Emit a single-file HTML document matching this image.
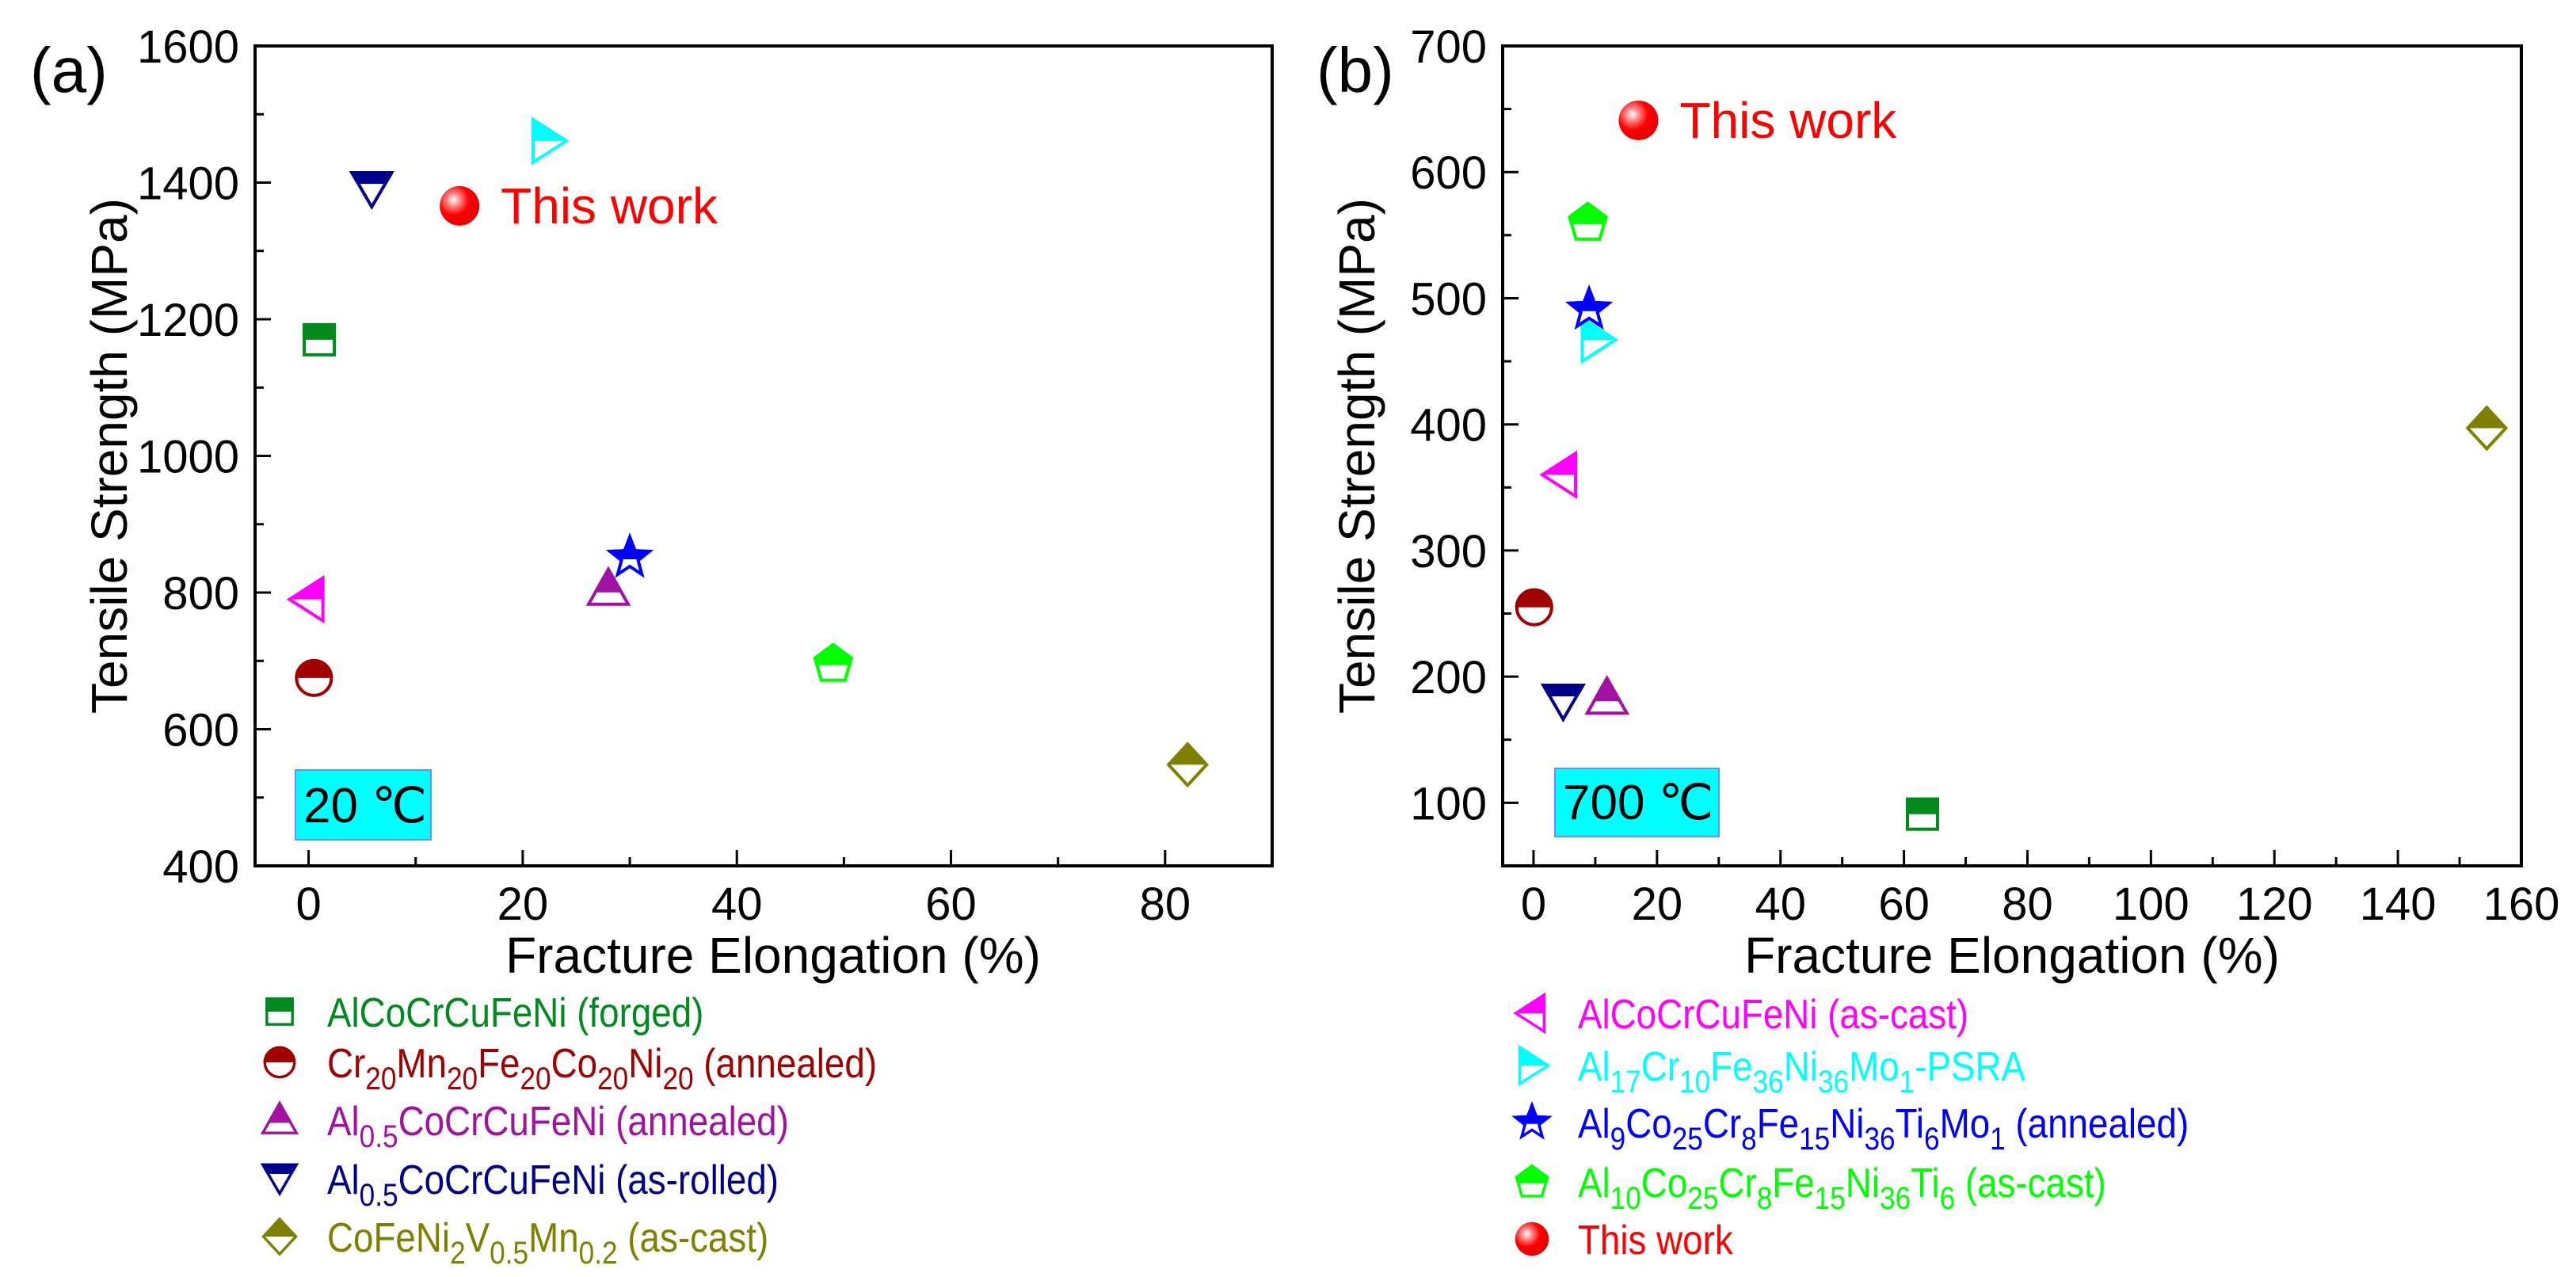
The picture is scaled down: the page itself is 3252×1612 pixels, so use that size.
<!DOCTYPE html>
<html><head><meta charset="utf-8"><style>
html,body{margin:0;padding:0;background:#fff;}
svg{display:block;font-family:"Liberation Sans",Arial,sans-serif;}
</style></head><body>
<svg id="fig" xmlns="http://www.w3.org/2000/svg" width="3252" height="1612" viewBox="0 0 3252 1612">
<defs>
<radialGradient id="sphere" cx="0.35" cy="0.35" r="0.7">
<stop offset="0" stop-color="#ffffff"/><stop offset="0.25" stop-color="#ff8080"/><stop offset="0.55" stop-color="#ff0000"/><stop offset="1" stop-color="#e00000"/>
</radialGradient>
</defs>
<g id="root"></g>
</svg>
<script>
// ---- data (panel a, 20 C) ----
const seriesKeys = ["forged","cr20","al05ann","al05roll","cofeni","ascast","psra","al9","al10","thiswork"];
const elongA = [1.0, 0.5, 28, 5.9, 82.1, 0, 22.3, 30, 49, 14.1];
const strengthA = [1170, 675, 805, 1390, 548, 790, 1461, 851, 696, 1366];
// ---- data (panel b, 700 C) ----
const elongB = [63, 0.1, 11.9, 4.8, 154.4, 4.5, 10.2, 9, 8.8, 17];
const strengthB = [91, 255, 183, 180, 397, 360, 467, 491, 560, 641];
// axis ticks
const xTicksA = [0, 20, 40, 60, 80];
const yTicksA = [400, 600, 800, 1000, 1200, 1400, 1600];
const xTicksB = [0, 20, 40, 60, 80, 100, 120, 140, 160];
const yTicksB = [100, 200, 300, 400, 500, 600, 700];

const shapes = ["square","circle","up","down","diamond","left","right","star","pentagon","sphere"];
const colors = ["#008a1e","#a00000","#a0129f","#00008a","#808000","#ff00ff","#00ffff","#0000ff","#00ff00","#ff0000"];

const NS = "http://www.w3.org/2000/svg";
const root = document.getElementById("root");
function el(tag, attrs, parent){ const e=document.createElementNS(NS,tag); for(const k in attrs) e.setAttribute(k,attrs[k]); (parent||root).appendChild(e); return e; }

let clipId = 0;
function shapePts(shape){
  switch(shape){
    case "up": return "0,-25 25,19 -25,19";
    case "down": return "-25,-21 25,-21 0,22";
    case "diamond": return "0,-26 24,0 0,26 -24,0";
    case "left": return "-24,0 18,-27 18,27";
    case "right": return "24,0 -18,-27 -18,27";
    case "pentagon": return "0,-24 23,-7 15,21 -15,21 -23,-7";
    case "star": { let p=[]; for(let i=0;i<10;i++){ const r=i%2?11:26; const a=-Math.PI/2+i*Math.PI/5; p.push((r*Math.cos(a)).toFixed(1)+","+(r*Math.sin(a)).toFixed(1)); } return p.join(" "); }
  }
  return "";
}
function fillCut(shape){ return {up:4,down:-7,diamond:0,left:0,right:0,pentagon:2,star:2,square:0,circle:0}[shape]; }
function drawMarker(g, shape, color, scale){
  if(shape==="sphere"){ el("circle",{cx:0,cy:0,r:25*scale,fill:"url(#sphere)"},g); return; }
  const id = "clp"+(clipId++);
  const cp = el("clipPath",{id:id},g);
  el("rect",{x:-40,y:-40,width:80,height:40+fillCut(shape)},cp);
  const mk = (parent, attrs)=>{
    if(shape==="square") return el("rect",Object.assign({x:-19,y:-19,width:38,height:38},attrs),parent);
    if(shape==="circle") return el("circle",Object.assign({cx:0,cy:0,r:22},attrs),parent);
    return el("polygon",Object.assign({points:shapePts(shape)},attrs),parent);
  };
  mk(g,{fill:"#fff",stroke:color,"stroke-width":4,"stroke-linejoin":"miter"});
  mk(g,{fill:color,stroke:color,"stroke-width":4,"clip-path":"url(#"+id+")"});
}

function panel(cfg){
  const P = el("g",{});
  
  
  const sx = v => cfg.x0 + (v - cfg.xmin)/(cfg.xmax - cfg.xmin)*(cfg.x1 - cfg.x0);
  const sy = v => cfg.y1 - (v - cfg.ymin)/(cfg.ymax - cfg.ymin)*(cfg.y1 - cfg.y0);
  const tb = el("g",{},P);
  
  
  el("rect",{x:cfg.tbox[0],y:cfg.tbox[1],width:cfg.tbox[2],height:cfg.tbox[3],fill:"#00ffff",stroke:"#6a8cff","stroke-width":2},tb);
  const tt = el("text",{x:cfg.tbox[0]+10,y:cfg.tbox[1]+cfg.tbox[3]-22,"font-size":62,fill:"#000"},tb);
  tt.textContent = cfg.temp;
  const fr = el("rect",{x:cfg.x0,y:cfg.y0,width:cfg.x1-cfg.x0,height:cfg.y1-cfg.y0,fill:"none",stroke:"#000","stroke-width":4},P);
  
  
  const xa = el("g",{},P);
  
  
  const xstep = cfg.xTicks[1]-cfg.xTicks[0];
  cfg.xTicks.forEach((t,i)=>{
    el("line",{x1:sx(t),x2:sx(t),y1:cfg.y1,y2:cfg.y1-20,stroke:"#000","stroke-width":3},xa);
    if(i<cfg.xTicks.length-1 && t+xstep/2<cfg.xmax) el("line",{x1:sx(t+xstep/2),x2:sx(t+xstep/2),y1:cfg.y1,y2:cfg.y1-11,stroke:"#000","stroke-width":3},xa);
    const lb = el("text",{x:sx(t),y:cfg.y1+68,"font-size":58,"text-anchor":"middle"},xa);
    
    
    lb.textContent = t;
  });
  const ya = el("g",{},P);
  
  
  const ystep = cfg.yTicks[1]-cfg.yTicks[0];
  cfg.yTicks.forEach((t,i)=>{
    el("line",{x1:cfg.x0,x2:cfg.x0+20,y1:sy(t),y2:sy(t),stroke:"#000","stroke-width":3},ya);
    if(t+ystep/2<cfg.ymax) el("line",{x1:cfg.x0,x2:cfg.x0+11,y1:sy(t+ystep/2),y2:sy(t+ystep/2),stroke:"#000","stroke-width":3},ya);
    if(t-ystep/2>cfg.ymin && i===0) el("line",{x1:cfg.x0,x2:cfg.x0+11,y1:sy(t-ystep/2),y2:sy(t-ystep/2),stroke:"#000","stroke-width":3},ya);
    const lb = el("text",{x:cfg.x0-20,y:sy(t)+21,"font-size":58,"text-anchor":"end"},ya);
    
    
    lb.textContent = t;
  });
  const xt = el("text",{x:(cfg.x0+cfg.x1)/2+cfg.xtOff,y:1228,"font-size":64,"text-anchor":"middle"},P);
  
  
  xt.textContent = "Fracture Elongation (%)";
  const ytx = cfg.x0-162, yty = (cfg.y0+cfg.y1)/2;
  const yt = el("text",{x:ytx,y:yty,"font-size":64,"text-anchor":"middle",transform:"rotate(-90 "+ytx+" "+yty+")"},P);
  
  
  yt.textContent = "Tensile Strength (MPa)";
  const pl = el("text",{x:cfg.plx,y:116,"font-size":80},P);
  
  
  pl.textContent = cfg.label;
  cfg.xs.forEach((xv,i)=>{
    const g = el("g",{transform:"translate("+sx(xv)+","+sy(cfg.ys[i])+")"},P);
    
    
    drawMarker(g, shapes[i], colors[i], 1);
    if(shapes[i]==="sphere"){
      const tw = el("text",{x:sx(xv)+52,y:sy(cfg.ys[i])+22,"font-size":64,fill:"#ff0000"},P);
      
      
      tw.textContent = "This work";
    }
  });
}

panel({name:"panel-a",label:"(a)",plx:38,temp:"20 \u2103",tbox:[373,972,171,88],
  x0:322,x1:1606,y0:58,y1:1093,xmin:-5,xmax:90,ymin:400,ymax:1600,
  xTicks:xTicksA,yTicks:yTicksA,xs:elongA,ys:strengthA,xtOff:12});
panel({name:"panel-b",label:"(b)",plx:1662,temp:"700 \u2103",tbox:[1963,970,207,86],
  x0:1897,x1:3183,y0:58,y1:1093,xmin:-5,xmax:160,ymin:50,ymax:700,
  xTicks:xTicksB,yTicks:yTicksB,xs:elongB,ys:strengthB,xtOff:0});

function legend(name, idxs, mx, tx, rows, items){
  const L = el("g",{});
  
  
  const sc = 0.88;
  idxs.forEach((k,j)=>{
    const g = el("g",{transform:"translate("+mx+","+rows[j]+") scale(0.85)"},L);
    
    
    drawMarker(g, shapes[k], colors[k], 1);
    const t = el("text",{x:(tx/sc).toFixed(1),y:rows[j]+19,"font-size":52,fill:colors[k],transform:"scale("+sc+",1)"},L);
    
    
    items[j].forEach(p=>{
      const s = el("tspan",{},t);
      if(p[1]){ s.setAttribute("font-size","40"); s.setAttribute("dy","15"); }
      else if(p[2]){ s.setAttribute("dy","-15"); }
      s.textContent = p[0];
    });
  });
}
legend("legend-a",[0,1,2,3,4],353,413,[1277,1341,1414,1488,1561],[
  [["AlCoCrCuFeNi (forged)"]],
  [["Cr"],["20",1],["Mn",0,1],["20",1],["Fe",0,1],["20",1],["Co",0,1],["20",1],["Ni",0,1],["20",1],[" (annealed)",0,1]],
  [["Al"],["0.5",1],["CoCrCuFeNi (annealed)",0,1]],
  [["Al"],["0.5",1],["CoCrCuFeNi (as-rolled)",0,1]],
  [["CoFeNi"],["2",1],["V",0,1],["0.5",1],["Mn",0,1],["0.2",1],[" (as-cast)",0,1]]
]);
legend("legend-b",[5,6,7,8,9],1934,1992,[1279,1345,1417,1492,1564],[
  [["AlCoCrCuFeNi (as-cast)"]],
  [["Al"],["17",1],["Cr",0,1],["10",1],["Fe",0,1],["36",1],["Ni",0,1],["36",1],["Mo",0,1],["1",1],["-PSRA",0,1]],
  [["Al"],["9",1],["Co",0,1],["25",1],["Cr",0,1],["8",1],["Fe",0,1],["15",1],["Ni",0,1],["36",1],["Ti",0,1],["6",1],["Mo",0,1],["1",1],[" (annealed)",0,1]],
  [["Al"],["10",1],["Co",0,1],["25",1],["Cr",0,1],["8",1],["Fe",0,1],["15",1],["Ni",0,1],["36",1],["Ti",0,1],["6",1],[" (as-cast)",0,1]],
  [["This work"]]
]);
</script>
</body></html>
